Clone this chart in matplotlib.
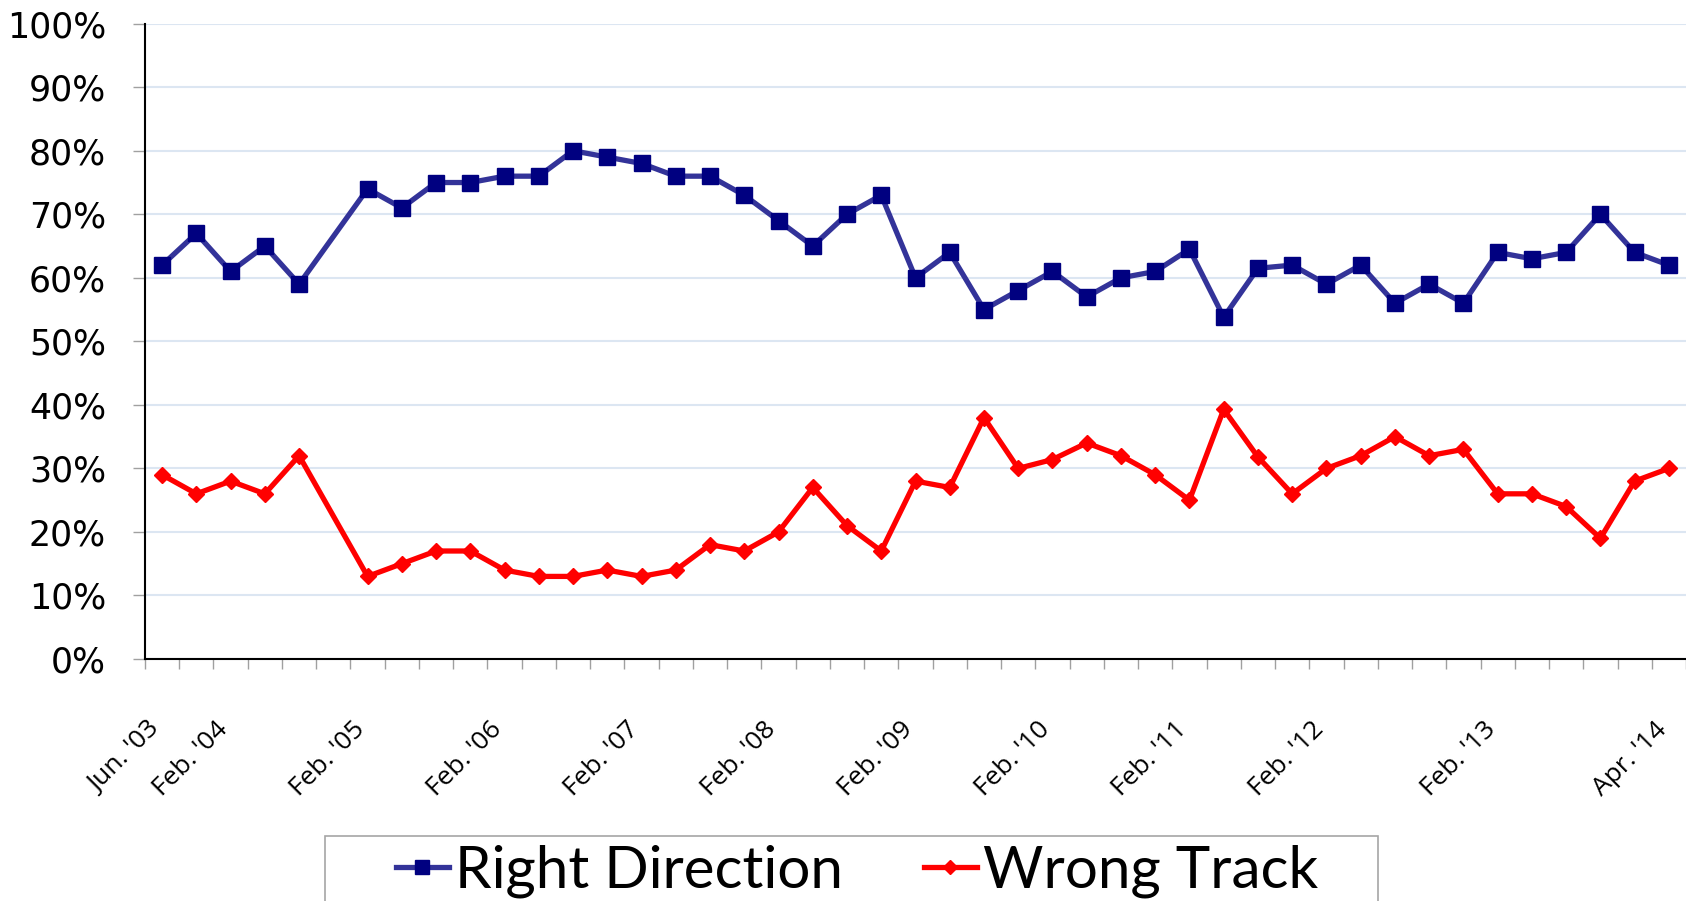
import numpy as np
import matplotlib
matplotlib.use("Agg")
import matplotlib.pyplot as plt
from matplotlib.ticker import FixedLocator, FuncFormatter
from matplotlib.patches import Rectangle
from matplotlib.transforms import ScaledTranslation

# ---- data (percent) ----
right_direction = [62, 67, 61, 65, 59, np.nan, 74, 71, 75, 75,
                   76, 76, 80, 79, 78, 76, 76, 73, 69, 65,
                   70, 73, 60, 64, 55, 58, 61, 57, 60, 61,
                   64.5, 53.8, 61.5, 62, 59, 62, 56, 59, 56, 64,
                   63, 64, 70, 64, 62]
wrong_track = [29, 26, 28, 26, 32, np.nan, 13, 15, 17, 17,
               14, 13, 13, 14, 13, 14, 18, 17, 20, 27,
               21, 17, 28, 27, 38, 30, 31.4, 34, 32, 29,
               25, 39.3, 31.8, 26, 30, 32, 35, 32, 33, 26,
               26, 24, 19, 28, 30]
tick_labels = ["Jun. '03", "", "Feb. '04", "", "", "", "Feb. '05", "", "", "",
               "Feb. '06", "", "", "", "Feb. '07", "", "", "", "Feb. '08", "",
               "", "", "Feb. '09", "", "", "", "Feb. '10", "", "", "",
               "Feb. '11", "", "", "", "Feb. '12", "", "", "", "", "Feb. '13",
               "", "", "", "", "Apr. '14"]
y_ticks = [0, 10, 20, 30, 40, 50, 60, 70, 80, 90, 100]
series_names = ["Right Direction", "Wrong Track"]

W, H = 1686, 901
fig = plt.figure(figsize=(W / 100, H / 100), dpi=100)
ax = fig.add_axes([145 / W, 1 - 659 / H, (W - 145) / W, (659 - 23.7) / H])

n = len(tick_labels)
x = np.arange(n)
rd = np.array(right_direction, dtype=float)
wt = np.array(wrong_track, dtype=float)
m1 = ~np.isnan(rd)
m2 = ~np.isnan(wt)

ax.plot(x[m1], rd[m1], color="#333399", lw=3.8, marker="s", markersize=12,
        markerfacecolor="#000080", markeredgecolor="#000080", label=series_names[0],
        zorder=3)
ax.plot(x[m2], wt[m2], color="#FF0000", lw=3.8, marker="D", markersize=8.5,
        markerfacecolor="#FF0000", markeredgecolor="#FF0000", label=series_names[1],
        zorder=3)

ax.set_xlim(-0.5, n - 0.5)
ax.set_ylim(0, 100)

# y axis
ax.yaxis.set_major_locator(FixedLocator(y_ticks))
ax.yaxis.set_major_formatter(FuncFormatter(lambda v, p: f"{int(v)}%"))
ax.grid(axis="y", color="#DCE6F2", lw=1.5, zorder=0)
ax.set_axisbelow(True)
ax.tick_params(axis="y", length=9, width=1, color="#A0A0A0", pad=19,
               labelsize=25)
for t in ax.get_yticklabels():
    t.set_fontfamily("DejaVu Sans")

# x axis: tick marks at category boundaries, labels at centers
ax.xaxis.set_minor_locator(FixedLocator(np.arange(-0.5, n, 1.0)))
ax.tick_params(axis="x", which="minor", length=7, width=1, color="#A0A0A0")
ax.set_xticks(x)
ax.set_xticklabels(tick_labels, rotation=45, ha="right", va="center",
                   rotation_mode="anchor", fontsize=19, family="Open Sans")
ax.tick_params(axis="x", which="major", length=0, pad=48)
shift = ScaledTranslation(-6 / 100, 0, fig.dpi_scale_trans)
for t in ax.get_xticklabels():
    t.set_transform(t.get_transform() + shift)

for s in ["top", "right"]:
    ax.spines[s].set_visible(False)
for s in ["left", "bottom"]:
    ax.spines[s].set_color("black")
    ax.spines[s].set_linewidth(1.5)

# legend box (extends past the bottom edge, as in the reference)
fig.patches.append(Rectangle((325 / W, -0.02), (1378 - 325) / W, 0.02 + (H - 835.5) / H,
                             transform=fig.transFigure, fill=False,
                             edgecolor="#A6A6A6", lw=1.2))
leg = fig.legend(loc="center", bbox_to_anchor=(857 / W, 1 - 871 / H),
                 ncol=2, frameon=False,
                 prop={"family": ["Lato", "DejaVu Sans"], "size": 42},
                 handlelength=0.9, handletextpad=0.1, columnspacing=1.4,
                 borderpad=0.0, borderaxespad=0, markerscale=0.8)

fig.savefig("out.png", dpi=100)
